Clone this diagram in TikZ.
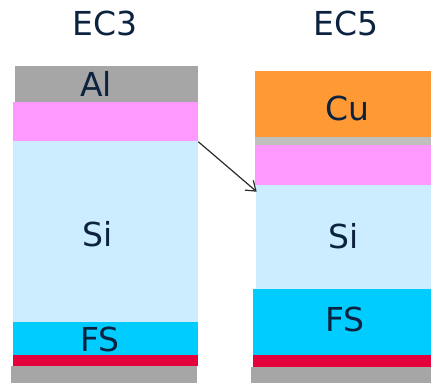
\documentclass[tikz,border=0pt]{standalone}
\usepackage{fontspec}
\setmainfont{DejaVu Sans}
\usetikzlibrary{arrows.meta}
\definecolor{alGray}{HTML}{A6A6A6}
\definecolor{lightGray}{HTML}{BFBFBF}
\definecolor{oxPink}{HTML}{FF99FF}
\definecolor{siBlue}{HTML}{CCECFF}
\definecolor{fsCyan}{HTML}{00CCFF}
\definecolor{pRed}{HTML}{E4003A}
\definecolor{cuOrange}{HTML}{FF9933}
\definecolor{navy}{HTML}{0C2340}
\definecolor{arrowGray}{HTML}{2B2B2B}
\tikzset{
  lbl/.style={anchor=base, inner sep=0pt, text=navy, font=\fontsize{33}{40}\selectfont},
  connector/.style={draw=arrowGray, line width=1.2pt, -{Straight Barb[length=9pt,width=13pt]}}
}
\begin{document}
\begin{tikzpicture}[x=1pt,y=-1pt]
\useasboundingbox (0,0) rectangle (431,383);

% EC3 stack
\fill[alGray]   (14.5,66)   rectangle (197.5,101.5);
\fill[oxPink]   (13.3,101.5) rectangle (198,141);
\fill[siBlue]   (13.3,141)  rectangle (198,322);
\fill[fsCyan]   (12.7,322)  rectangle (198,355);
\fill[pRed]     (12.7,355)  rectangle (197.5,366);
\fill[alGray]   (11.3,366)  rectangle (197,383);

% EC5 stack
\fill[cuOrange]  (255,70.7)   rectangle (431,136.7);
\fill[lightGray] (255,136.7)  rectangle (431,145);
\fill[oxPink]    (255,145)    rectangle (431,184.5);
\fill[siBlue]    (255.7,184.5) rectangle (431,289.3);
\fill[fsCyan]    (252.7,289.3) rectangle (431,355);
\fill[pRed]      (252.7,355)  rectangle (431,366.7);
\fill[alGray]    (251.3,366.7) rectangle (431,383);

% titles and layer labels
\node[lbl] (t3)  at (105,35.7)  {EC3};
\node[lbl] (t5)  at (345.8,35.7) {EC5};
\node[lbl] (al)  at (96,96.7)   {Al};
\node[lbl] (si3) at (98,246)    {Si};
\node[lbl] (fs3) at (100,351.7) {FS};
\node[lbl] (cu)  at (347.7,120.7) {Cu};
\node[lbl] (si5) at (344,248.3) {Si};
\node[lbl] (fs5) at (345,331.7) {FS};

% arrow from the EC3 oxide edge to the EC5 silicon edge
\coordinate (from) at (198.3,141.7);
\coordinate (to)   at (256.7,191.7);
\draw[connector] (from) -- (to);
\end{tikzpicture}
\end{document}
